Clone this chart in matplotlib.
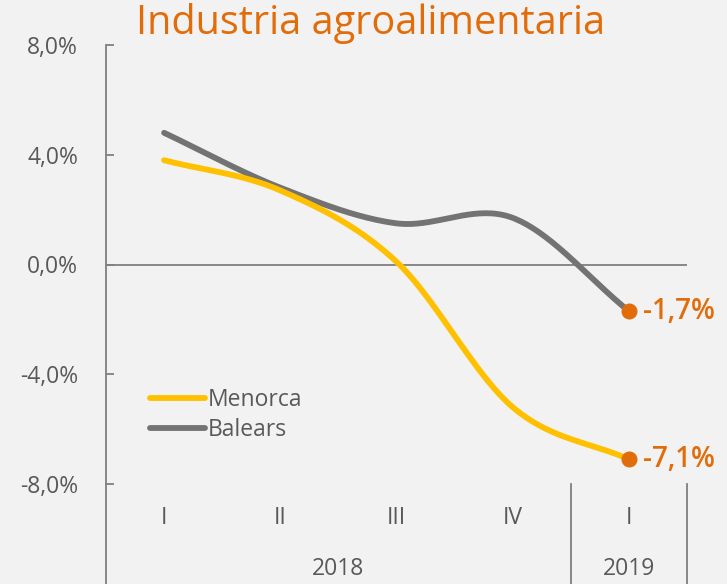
import numpy as np
import matplotlib
matplotlib.use("Agg")
import matplotlib.pyplot as plt

quarters = ["I", "II", "III", "IV", "I"]
years = ["2018", "2019"]
menorca = [3.8, 2.7, 0.1, -5.2, -7.1]
balears = [4.8, 2.8, 1.5, 1.7, -1.7]
yticks = [8, 4, 0, -4, -8]
title = "Industria agroalimentaria"

FONT = ["Open Sans", "DejaVu Sans"]
plt.rcParams["font.family"] = FONT
plt.rcParams["font.weight"] = "medium"

GRAY_TXT = "#595959"
ORANGE = "#E36C0A"
YELLOW = "#FFC000"
DARK = "#737373"
BG = "#F2F2F2"
FS = 16.5


def smooth(x, y, n=40):
    # Catmull-Rom style smoothing (like spreadsheet smoothed lines)
    x = np.asarray(x, float)
    y = np.asarray(y, float)
    px = np.concatenate([[2 * x[0] - x[1]], x, [2 * x[-1] - x[-2]]])
    py = np.concatenate([[2 * y[0] - y[1]], y, [2 * y[-1] - y[-2]]])
    xs, ys = [], []
    t = np.linspace(0, 1, n)
    for i in range(1, len(px) - 2):
        p0, p1, p2, p3 = px[i - 1], px[i], px[i + 1], px[i + 2]
        q0, q1, q2, q3 = py[i - 1], py[i], py[i + 1], py[i + 2]
        b1x, b1y = p1 + (p2 - p0) / 6, q1 + (q2 - q0) / 6
        b2x, b2y = p2 - (p3 - p1) / 6, q2 - (q3 - q1) / 6
        bx = (1 - t) ** 3 * p1 + 3 * (1 - t) ** 2 * t * b1x + 3 * (1 - t) * t ** 2 * b2x + t ** 3 * p2
        by = (1 - t) ** 3 * q1 + 3 * (1 - t) ** 2 * t * b1y + 3 * (1 - t) * t ** 2 * b2y + t ** 3 * q2
        xs.append(bx)
        ys.append(by)
    return np.concatenate(xs), np.concatenate(ys)


fig = plt.figure(figsize=(7.27, 5.84), dpi=100, facecolor=BG)
ax = fig.add_axes([106 / 727, 100 / 584, 581 / 727, 439 / 584], facecolor=BG)

x = np.arange(len(quarters))
for vals, col, lab in [(balears, DARK, "Balears"), (menorca, YELLOW, "Menorca")]:
    sx, sy = smooth(x, vals)
    ax.plot(sx, sy, color=col, lw=4.2, solid_capstyle="round", label=lab)

ax.plot([x[-1]], [balears[-1]], "o", color=ORANGE, ms=10.5, zorder=5)
ax.plot([x[-1]], [menorca[-1]], "o", color=ORANGE, ms=10.5, zorder=5)
for v in (balears[-1], menorca[-1]):
    ax.annotate(f"{v:.1f}%".replace(".", ","), (x[-1], v), xytext=(10, 0),
                textcoords="offset points", va="center", ha="left",
                color=ORANGE, fontsize=20, fontweight="semibold")

ax.axhline(0, color="#7F7F7F", lw=1.3, zorder=1)

ax.set_xlim(-0.5, 4.5)
ax.set_ylim(-8, 8)
ax.set_yticks(yticks)
ax.set_yticklabels([f"{v:.1f}%".replace(".", ",") for v in yticks])
ax.tick_params(axis="y", direction="in", length=6, width=1.3, color="#7F7F7F",
               labelsize=FS, labelcolor=GRAY_TXT, pad=20)
ax.set_xticks([])
for s in ["top", "right", "bottom"]:
    ax.spines[s].set_visible(False)
ax.spines["left"].set_color("#7F7F7F")
ax.spines["left"].set_linewidth(1.3)

# category axis below
bottom = -100 / 439
ax.plot([0, 0], [0, bottom], transform=ax.transAxes, color="#7F7F7F", lw=1.3, clip_on=False)
for xv in (3.5, 4.5):
    ax.plot([xv, xv], [-8, -8 + bottom * 16], color="#7F7F7F", lw=1.3, clip_on=False)
for i, q in enumerate(quarters):
    ax.text(i, -8 - 34 / 27.45, q, ha="center", va="center", fontsize=FS, color=GRAY_TXT, clip_on=False)
ax.text(1.5, -8 - 85 / 27.45, years[0], ha="center", va="center", fontsize=FS, color=GRAY_TXT, clip_on=False)
ax.text(4.0, -8 - 85 / 27.45, years[1], ha="center", va="center", fontsize=FS, color=GRAY_TXT, clip_on=False)

handles, labels = ax.get_legend_handles_labels()
leg = ax.legend(handles[::-1], labels[::-1], loc="upper left", bbox_to_anchor=(0.06, 0.24),
                frameon=False, fontsize=FS, handlelength=2.4, handletextpad=0.1,
                labelspacing=0.25, borderaxespad=0)
for t in leg.get_texts():
    t.set_color(GRAY_TXT)

fig.text(371 / 727, 1 - 24 / 584, title, ha="center", va="center", fontsize=28.5,
         color=ORANGE, fontweight="medium")

fig.savefig("out.png", dpi=100, facecolor=BG)
